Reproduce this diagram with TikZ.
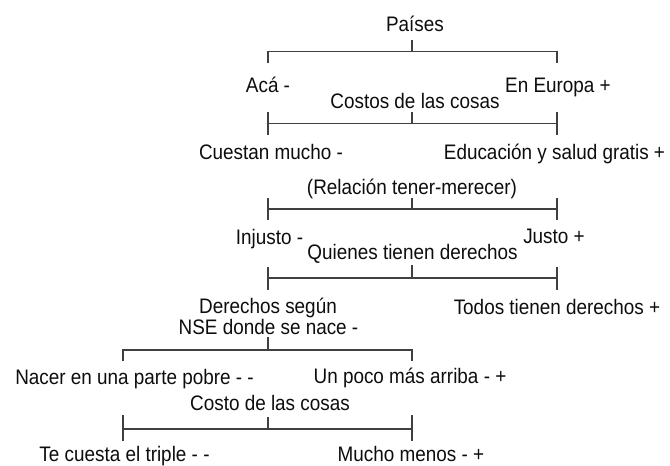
\documentclass[tikz,border=0pt]{standalone}
\usepackage{fontspec}
\setmainfont{Liberation Sans}[FakeStretch=0.9]
\begin{document}
\begin{tikzpicture}[x=1pt,y=-1pt,
  lbl/.style={inner sep=0pt, outer sep=0pt, anchor=center, text=black!95,
    text height=15pt, text depth=0pt, font=\fontsize{21}{23}\selectfont},
  brk/.style={draw=black!75, line width=1.4pt}]
\useasboundingbox (0,0) rectangle (670,466);

% labels
\node[lbl] (paises) at (415,24) {Países};
\node[lbl] (aca) at (268,84.5) {Acá -};
\node[lbl] (europa) at (558,84.5) {En Europa +};
\node[lbl] (costos) at (415,101) {Costos de las cosas};
\node[lbl] (cuestan) at (271,151.7) {Cuestan mucho -};
\node[lbl] (educ) at (554.5,152) {Educación y salud gratis +};
\node[lbl] (relacion) at (412,187) {(Relación tener-merecer)};
\node[lbl] (injusto) at (269.5,237) {Injusto -};
\node[lbl] (justo) at (554,236) {Justo +};
\node[lbl] (quienes) at (412.5,252) {Quienes tienen derechos};
\node[lbl] (derechos) at (268,306) {Derechos según};
\node[lbl] (nse) at (268.5,327) {NSE donde se nace -};
\node[lbl] (todos) at (557,306.5) {Todos tienen derechos +};
\node[lbl] (nacer) at (134.5,377) {Nacer en una parte pobre - -};
\node[lbl] (poco) at (410,375.5) {Un poco más arriba - +};
\node[lbl] (costo) at (270,403) {Costo de las cosas};
\node[lbl] (triple) at (124.5,454) {Te cuesta el triple - -};
\node[lbl] (menos) at (411,454) {Mucho menos - +};

% bracket 1 (Países)
\coordinate (b1t) at (412,40);
\coordinate (b1m) at (412,51.7);
\coordinate (b1l) at (268,51.7);
\coordinate (b1r) at (557,51.7);
\coordinate (b1lb) at (268,63);
\coordinate (b1rb) at (557,63);
\draw[brk] (b1t) -- (b1m);
\draw[brk] (b1lb) -- (b1l) -- (b1r) -- (b1rb);

% bracket 2 (Costos de las cosas)
\coordinate (b2t) at (412,112);
\coordinate (b2m) at (412,123.5);
\coordinate (b2l) at (268,123.5);
\coordinate (b2r) at (557,123.5);
\coordinate (b2lt) at (268,112);
\coordinate (b2lb) at (268,135);
\coordinate (b2rt) at (557,112);
\coordinate (b2rb) at (557,135);
\draw[brk] (b2t) -- (b2m);
\draw[brk] (b2l) -- (b2r);
\draw[brk] (b2lt) -- (b2lb);
\draw[brk] (b2rt) -- (b2rb);

% bracket 3 (Relación tener-merecer)
\coordinate (b3t) at (412,198);
\coordinate (b3m) at (412,209);
\coordinate (b3l) at (268,209);
\coordinate (b3r) at (557,209);
\coordinate (b3lt) at (268,198);
\coordinate (b3lb) at (268,220);
\coordinate (b3rt) at (557,198);
\coordinate (b3rb) at (557,220);
\draw[brk] (b3t) -- (b3m);
\draw[brk] (b3l) -- (b3r);
\draw[brk] (b3lt) -- (b3lb);
\draw[brk] (b3rt) -- (b3rb);

% bracket 4 (Quienes tienen derechos)
\coordinate (b4t) at (412,265);
\coordinate (b4m) at (412,278);
\coordinate (b4l) at (268,278);
\coordinate (b4r) at (557,278);
\coordinate (b4lt) at (268,267);
\coordinate (b4lb) at (268,290);
\coordinate (b4rt) at (557,267);
\coordinate (b4rb) at (557,290);
\draw[brk] (b4t) -- (b4m);
\draw[brk] (b4l) -- (b4r);
\draw[brk] (b4lt) -- (b4lb);
\draw[brk] (b4rt) -- (b4rb);

% bracket 5 (Derechos según NSE)
\coordinate (b5t) at (268,337);
\coordinate (b5m) at (268,350);
\coordinate (b5l) at (123,350);
\coordinate (b5r) at (412,350);
\coordinate (b5lb) at (123,361);
\coordinate (b5rb) at (412,361);
\draw[brk] (b5t) -- (b5m);
\draw[brk] (b5lb) -- (b5l) -- (b5r) -- (b5rb);

% bracket 6 (Costo de las cosas)
\coordinate (b6t) at (268,417);
\coordinate (b6m) at (268,429);
\coordinate (b6l) at (123,429);
\coordinate (b6r) at (412,429);
\coordinate (b6lt) at (123,415);
\coordinate (b6lb) at (123,441);
\coordinate (b6rt) at (412,415);
\coordinate (b6rb) at (412,441);
\draw[brk] (b6t) -- (b6m);
\draw[brk] (b6l) -- (b6r);
\draw[brk] (b6lt) -- (b6lb);
\draw[brk] (b6rt) -- (b6rb);
\end{tikzpicture}
\end{document}
